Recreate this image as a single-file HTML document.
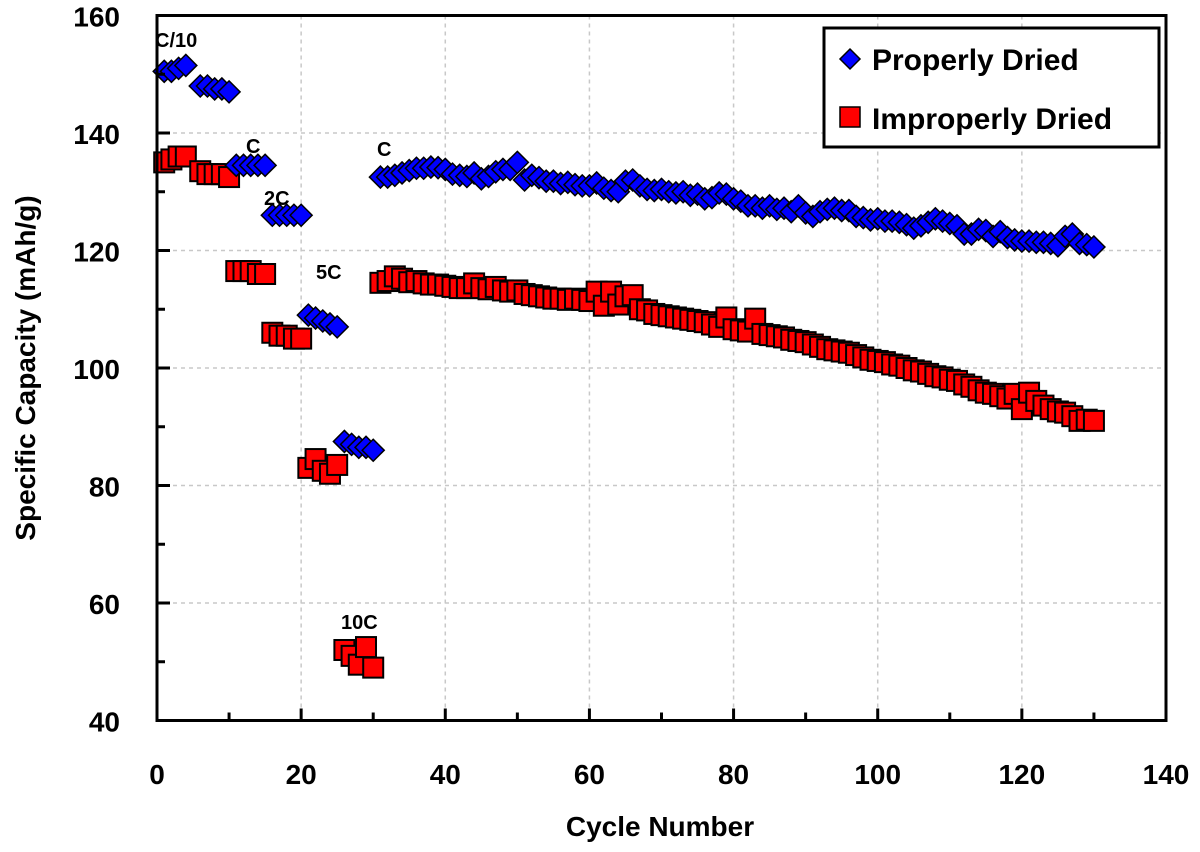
<!DOCTYPE html>
<html><head><meta charset="utf-8"><style>
body{margin:0;background:#fff;}
svg text{font-family:"Liberation Sans",Arial,sans-serif;font-weight:bold;}
</style></head><body>
<svg id="chart" width="1200" height="847" xmlns="http://www.w3.org/2000/svg">
<g id="grid"></g>
<g id="series"></g>
<g id="axes"></g>
</svg>
<script>
const xTicks=[0,20,40,60,80,100,120,140];
const yTicks=[40,60,80,100,120,140,160];
const blueA=[150.5,150.5,151,151.5,null,148,148,147.5,147.5,147,134.5,134.5,134.5,134.5,134.5,126,126,126,126,126,109,108.5,108,107.5,107,87.5,87,86.5,86.5,86];
const blueB=[132.5,132.5,132.8,133.2,133.6,134,134,134.2,134.1,133.8,133,132.8,132.6,133.2,132.2,132.6,133.4,133.8,133.8,135,132,132.8,132.4,131.8,131.8,131.4,131.6,131.2,131,131,131.5,130.6,130.2,130,131.8,132,131,130.4,130.2,130.4,130,129.8,130,129.4,129.6,128.8,129,129.8,129.6,128.8,128.4,127.6,127.6,127.2,127.6,127,127.2,126.6,127.6,126.4,125.8,126.6,127,127.2,126.8,126.8,125.8,125.6,125.2,125.4,125,125,124.8,124.4,123.8,124.2,124.8,125.4,125,124.6,124.2,122.8,122.8,123.6,123.4,122.4,123.2,122.2,121.8,121.6,121.6,121.4,121.4,121.2,120.8,122.4,122.8,121.2,121,120.6];
const redA=[135,135.5,136,136,null,133.5,133,133,133,132.5,116.5,116.5,116.5,116,116,106,105.5,105.5,105,105,83,84.5,82.5,82,83.5,52,51,49.5,52.5,49];
const redB=[114.5,114.8,115.6,115.2,114.6,114.8,114.4,114.2,114.2,114,113.8,113.6,113.6,114.4,113.6,113.4,113.8,113.2,113,113.2,112.6,112.4,112.2,112,111.8,111.8,111.6,111.8,111.6,111.4,113,110.6,113,110.8,112.2,112.4,110,109.8,109.2,109,108.8,108.6,108.4,108.2,108,107.8,107.4,107,108.6,106.6,106.4,106.2,108.4,105.8,105.6,105.4,105.2,104.8,104.6,104.4,104,103.6,103.2,103,102.8,102.6,102.2,101.8,101.4,101.2,101,100.6,100.4,100,99.6,99.4,99,98.6,98.4,98,97.8,97.2,96.8,96.2,95.8,95.6,95.2,94.8,95.6,93,95.8,94.4,93.6,93,92.6,92.4,91.8,91,91.2,91];
const blue=blueA.concat(blueB), red=redA.concat(redB);
const X0=157,X1=1166,Y0=720.5,Y1=15.5;
const sx=v=>X0+(v-0)/140*(X1-X0);
const sy=v=>Y0-(v-40)/120*(Y0-Y1);
const NS="http://www.w3.org/2000/svg";
function mk(tag,attrs,parent){const e=document.createElementNS(NS,tag);for(const k in attrs)e.setAttribute(k,attrs[k]);parent.appendChild(e);return e;}
const grid=document.getElementById('grid'),ser=document.getElementById('series'),axes=document.getElementById('axes');
xTicks.slice(1,-1).forEach(t=>{const l=mk('line',{x1:sx(t),x2:sx(t),y1:Y1,y2:Y0,stroke:'#c8c8c8','stroke-dasharray':'4,4','stroke-width':1.5},grid);

});
yTicks.slice(1,-1).forEach(t=>{const l=mk('line',{x1:X0,x2:X1,y1:sy(t),y2:sy(t),stroke:'#c8c8c8','stroke-dasharray':'4,4','stroke-width':1.5},grid);

});
red.forEach((v,i)=>{if(v==null)return;const r=mk('rect',{x:sx(i+1)-10,y:sy(v)-10,width:20,height:20,fill:'#ff0000',stroke:'#000','stroke-width':2},ser);

});
blue.forEach((v,i)=>{if(v==null)return;const cx=sx(i+1),cy=sy(v);const p=mk('polygon',{points:`${cx},${cy-11} ${cx+11},${cy} ${cx},${cy+11} ${cx-11},${cy}`,fill:'#0000ff',stroke:'#000','stroke-width':1.5},ser);

});
const box=mk('rect',{x:X0,y:Y1,width:X1-X0,height:Y0-Y1,fill:'none',stroke:'#000','stroke-width':3},axes);


xTicks.forEach(t=>{mk('line',{x1:sx(t),x2:sx(t),y1:Y0,y2:Y0-12,stroke:'#000','stroke-width':3},axes);
const tx=mk('text',{x:sx(t),y:784,'text-anchor':'middle','font-size':28},axes);tx.textContent=t;

});
yTicks.forEach(t=>{mk('line',{x1:X0,x2:X0+13,y1:sy(t),y2:sy(t),stroke:'#000','stroke-width':3},axes);
if(t<160)mk('line',{x1:X0,x2:X0+8,y1:sy(t+10),y2:sy(t+10),stroke:'#000','stroke-width':3},axes);
const tx=mk('text',{x:120,y:sy(t)+11,'text-anchor':'end','font-size':28},axes);tx.textContent=t;

});
xTicks.slice(0,-1).forEach(t=>{mk('line',{x1:sx(t+10),x2:sx(t+10),y1:Y0,y2:Y0-8,stroke:'#000','stroke-width':3},axes);});
</script>
<svg style="position:absolute;left:0;top:0" width="1200" height="847" xmlns="http://www.w3.org/2000/svg">
<text x="660" y="836" text-anchor="middle" font-size="28">Cycle Number</text>
<text transform="translate(35,368) rotate(-90)" text-anchor="middle" font-size="28">Specific  Capacity (mAh/g)</text>
<text x="155" y="47" font-size="20">C/10</text>
<text x="246" y="153" font-size="20">C</text>
<text x="264" y="205" font-size="20">2C</text>
<text x="316" y="279" font-size="20">5C</text>
<text x="341" y="629" font-size="20">10C</text>
<text x="377" y="156" font-size="20">C</text>
<g>
<rect x="824" y="28" width="335" height="119" fill="#fff" stroke="#000" stroke-width="3"/>
<polygon points="850,49 860,59 850,69 840,59" fill="#0000ff" stroke="#000" stroke-width="1.5"/>
<text x="872" y="70" font-size="30">Properly Dried</text>
<rect x="840" y="107" width="20" height="20" fill="#ff0000" stroke="#000" stroke-width="1.5"/>
<text x="872" y="129" font-size="30">Improperly Dried</text>
</g>
</svg>
</body></html>
